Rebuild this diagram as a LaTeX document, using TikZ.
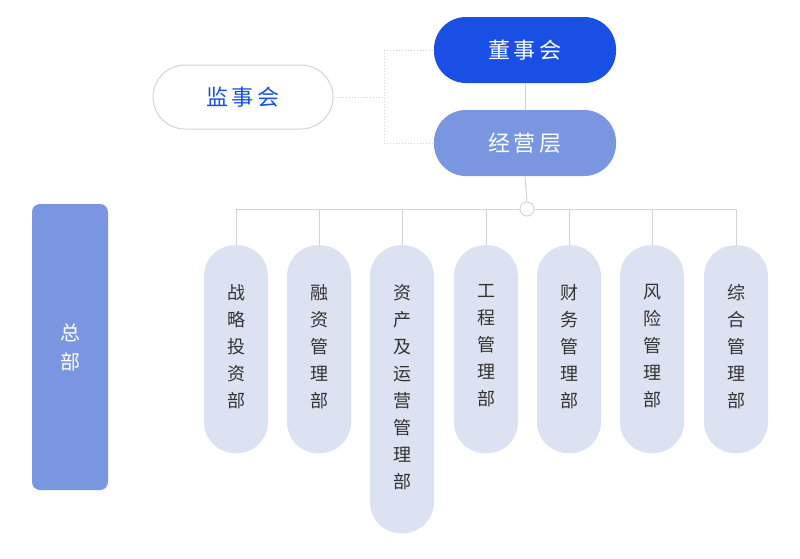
\documentclass[tikz,border=0pt]{standalone}
\usepackage{fontspec}
\newfontfamily\cjk{Noto Sans CJK SC}
\definecolor{deepblue}{HTML}{1A4FE6}
\definecolor{midblue}{HTML}{7B96E0}
\definecolor{pale}{HTML}{DDE2F2}
\definecolor{lgray}{HTML}{D4D4D4}
\definecolor{txt}{HTML}{333333}
\begin{document}
\begin{tikzpicture}[x=1pt,y=-1pt,
  pill/.style={rounded corners=32pt,minimum width=182pt,minimum height=66pt,font=\cjk\fontsize{22}{24}\selectfont},
  dept/.style={fill=pale,rounded corners=31pt,minimum width=64pt,anchor=north},
  dtext/.style={font=\cjk\fontsize{18}{27}\selectfont,text=txt,align=center,anchor=north,inner sep=0pt},
  conn/.style={draw=lgray,line width=1pt}]
\useasboundingbox (0,0) rectangle (800,558);
\node[pill,draw=lgray,line width=1pt,fill=white,minimum width=180pt,minimum height=64pt,text=deepblue] (jsh) at (243,97) {监\,事\,会};
\node[pill,fill=deepblue,text=white] (dsh) at (525,50) {董\,事\,会};
\node[pill,fill=midblue,text=white] (jyc) at (525,143) {经\,营\,层};
\coordinate (j1) at (384,97);
\draw[lgray,line width=1pt,dotted] (jsh.east) -- (j1) (384,50) -- (384,143);
\draw[lgray,line width=1pt,dotted] (384,50) -- (dsh.west);
\draw[lgray,line width=1pt,dotted] (384,143) -- (jyc.west);
\draw[conn] (dsh.south) -- (jyc.north);
\node[circle,draw=lgray,line width=1pt,fill=white,minimum size=14pt,inner sep=0pt] (hub) at (527,209) {};
\draw[conn] (jyc.south) -- (hub.north);
\draw[conn] (236,209) -- (hub.west) (hub.east) -- (736,209);
\node[fill=midblue,rounded corners=8pt,minimum width=76pt,minimum height=286pt] (zb) at (70,347) {};
\node[font=\cjk\fontsize{20}{29}\selectfont,text=white,align=center] (zbt) at (70,347) {总\\部};
\foreach \n/\x/\h/\t in {a/236/208/{战\\略\\投\\资\\部},b/319/208/{融\\资\\管\\理\\部},c/402/288/{资\\产\\及\\运\\营\\管\\理\\部},d/486/208/{工\\程\\管\\理\\部},e/569/208/{财\\务\\管\\理\\部},f/652/208/{风\\险\\管\\理\\部},g/736/208/{综\\合\\管\\理\\部}}{
  \node[dept,minimum height=\h pt] (\n) at (\x,245) {};
  \node[dtext] (\n t) at (\x,284) {\t};
  \draw[conn] (\x,209) -- (\n.north);
}
\end{tikzpicture}
\end{document}
